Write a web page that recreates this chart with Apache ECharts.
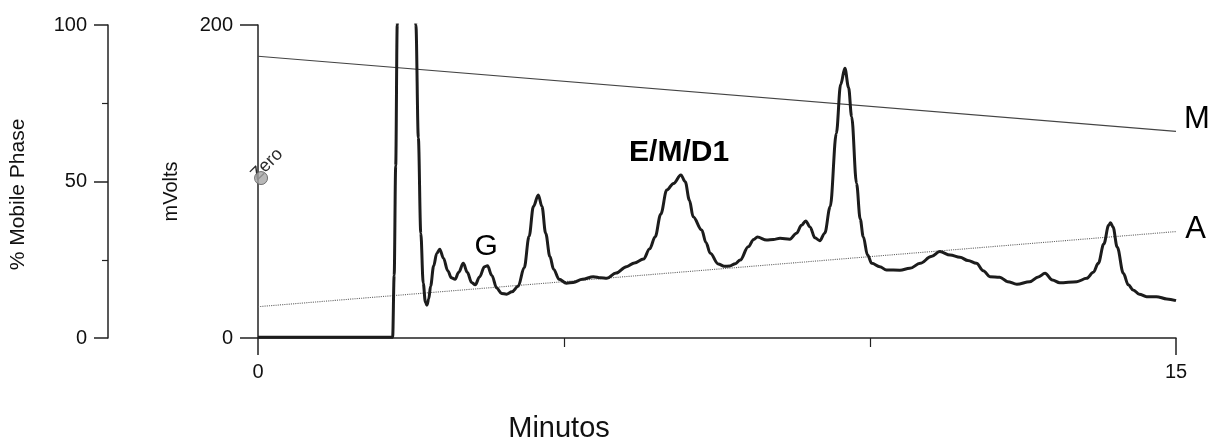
<!DOCTYPE html>
<html><head><meta charset="utf-8">
<script src="https://cdn.jsdelivr.net/npm/echarts@6/dist/echarts.min.js"></script>
<style>html,body{margin:0;padding:0;background:#fff}#c{width:1210px;height:438px}</style>
</head><body><div id="c"></div>
<script>
// Chromatogram trace (minutes, mVolts)
const times = [0, 2.2, 2.225, 2.25, 2.275, 2.30, 2.42, 2.54, 2.58, 2.62, 2.66, 2.70, 2.735, 2.76, 2.79, 2.82, 2.87, 2.92, 2.97, 3.03, 3.10, 3.16, 3.22, 3.28, 3.355, 3.42, 3.49, 3.55, 3.62, 3.70, 3.75, 3.82, 3.90, 3.98, 4.06, 4.15, 4.25, 4.35, 4.43, 4.50, 4.58, 4.64, 4.70, 4.77, 4.83, 4.92, 5.04, 5.15, 5.30, 5.48, 5.60, 5.70, 5.85, 6.02, 6.15, 6.30, 6.40, 6.49, 6.58, 6.68, 6.79, 6.91, 6.98, 7.05, 7.11, 7.25, 7.32, 7.39, 7.52, 7.62, 7.71, 7.80, 7.88, 8.01, 8.10, 8.16, 8.31, 8.42, 8.53, 8.69, 8.80, 8.88, 8.95, 9.02, 9.10, 9.18, 9.26, 9.35, 9.45, 9.52, 9.59, 9.65, 9.70, 9.78, 9.84, 9.89, 9.96, 10.03, 10.16, 10.27, 10.49, 10.65, 10.82, 11.0, 11.14, 11.31, 11.47, 11.60, 11.74, 11.85, 11.96, 12.12, 12.25, 12.40, 12.61, 12.75, 12.86, 12.98, 13.10, 13.38, 13.54, 13.65, 13.73, 13.82, 13.90, 13.93, 13.97, 14.04, 14.14, 14.22, 14.30, 14.40, 14.52, 14.68, 14.85, 15.0];
const mvolts = [0.5, 0.5, 40, 110, 200, 300, 500, 300, 200, 128, 67, 35, 23, 21, 25, 33, 46, 54, 56.7, 51, 43, 38.5, 37.5, 42, 47.7, 42, 35.5, 34, 39, 45.5, 46.2, 40, 32, 28.5, 28, 29.5, 33, 45, 65, 84, 91.4, 84, 67, 52, 44, 37.5, 35, 35.5, 37.5, 39.2, 38.5, 38.1, 41.5, 45.6, 48, 50.5, 57, 64.7, 79, 94.6, 98.8, 104.2, 99.9, 88, 77.5, 69.0, 61, 54.1, 47.3, 45.8, 46.0, 47.5, 49.8, 58.3, 63, 64.5, 62.6, 63, 63.7, 63.1, 67, 72, 74.8, 71, 64, 62.2, 67, 83.9, 130.8, 162, 172.3, 160, 141.4, 98.8, 76, 64.7, 53, 47.7, 45.5, 43.5, 43.3, 44.5, 47.7, 52, 55.2, 53, 51.6, 49.5, 47.7, 43, 39.2, 38.8, 36, 34.3, 36.0, 39, 41.3, 37, 35.3, 36.0, 38.1, 42, 47.7, 60, 72, 73.7, 71, 58, 41.3, 34, 30.7, 28, 26.4, 26.4, 25, 23.9];

// Mobile phase gradient (% of mobile phase)
const gradTimes = [0, 15];
const phaseM = [90, 66];
const phaseA = [10, 34];

// Tick labels
const xTickLabels = ['0', '15'];
const mvTickLabels = ['0', '200'];
const phaseTickLabels = ['0', '50', '100'];

// Annotations
const peakNames = ['G', 'E/M/D1'];
const peakNameTimes = [3.73, 6.88];
const peakNameMv = [58.3, 118.3];
const phaseNames = ['M', 'A'];
const phaseNameTimes = [15.34, 15.32];
const phaseNamePct = [69.8, 34.7];
const zeroText = 'Zero';
const zeroTextAnchor = [0.035, 98.5];
const zeroPoint = [0.05, 102.2];

const FONT = "'Liberation Sans', Arial, sans-serif";
const chart = echarts.init(document.getElementById('c'));
const axisCol = '#222';

const labelSeries = (name, yIdx, data, label) => ({
  name, type: 'scatter', yAxisIndex: yIdx, clip: false, silent: true,
  symbolSize: 0, itemStyle: { color: '#000', opacity: 1 }, z: 6, data,
  label: Object.assign({ show: true, formatter: p => p.name, position: 'inside', align: 'center',
    verticalAlign: 'middle', color: '#000', textBorderWidth: 0, fontFamily: FONT }, label)
});

chart.setOption({
  animation: false,
  backgroundColor: '#fff',
  textStyle: { fontFamily: FONT },
  grid: { left: 258, right: 34, top: 25, bottom: 100, containLabel: false, outerBoundsMode: 'none' },
  xAxis: {
    type: 'value', min: 0, max: 15, interval: 15,
    axisLine: { show: true, onZero: false, lineStyle: { color: axisCol, width: 1.5 } },
    axisTick: { show: true, length: 17, lineStyle: { color: axisCol, width: 1.5 } },
    minorTick: { show: true, splitNumber: 3, length: 9, lineStyle: { color: axisCol, width: 1.2 } },
    splitLine: { show: false }, minorSplitLine: { show: false },
    axisLabel: { margin: 24, fontSize: 20, color: '#111', fontFamily: FONT,
      formatter: v => xTickLabels.indexOf(String(v)) >= 0 ? String(v) : '' },
    name: 'Minutos', nameLocation: 'middle', nameGap: 76,
    nameTextStyle: { fontSize: 29, color: '#111', fontFamily: FONT, padding: [0, 316, 0, 0] }
  },
  yAxis: [
    {
      type: 'value', min: 0, max: 200, interval: 200, position: 'left',
      axisLine: { show: true, onZero: false, lineStyle: { color: axisCol, width: 1.5 } },
      axisTick: { show: true, length: 18, lineStyle: { color: axisCol, width: 1.5 } },
      splitLine: { show: false },
      axisLabel: { margin: 25, fontSize: 20, color: '#111', fontFamily: FONT,
        formatter: v => mvTickLabels.indexOf(String(v)) >= 0 ? String(v) : '' },
      name: 'mVolts', nameLocation: 'middle', nameGap: 77, nameRotate: 90,
      nameTextStyle: { fontSize: 20, color: '#111', fontFamily: FONT, padding: [0, 20, 0, 0] }
    },
    {
      type: 'value', min: 0, max: 100, interval: 50, position: 'left', offset: 150,
      axisLine: { show: true, onZero: false, lineStyle: { color: axisCol, width: 1.5 } },
      axisTick: { show: true, length: 14, lineStyle: { color: axisCol, width: 1.5 } },
      minorTick: { show: true, splitNumber: 2, length: 6, lineStyle: { color: axisCol, width: 1.2 } },
      splitLine: { show: false }, minorSplitLine: { show: false },
      axisLabel: { margin: 21, fontSize: 20, color: '#111', fontFamily: FONT,
        formatter: v => phaseTickLabels.indexOf(String(v)) >= 0 ? String(v) : '' },
      name: '% Mobile Phase', nameLocation: 'middle', nameGap: 79, nameRotate: 90,
      nameTextStyle: { fontSize: 21, color: '#111', fontFamily: FONT, padding: [0, 26, 0, 0] }
    }
  ],
  series: [
    {
      name: 'M', type: 'line', yAxisIndex: 1, showSymbol: false, silent: true,
      data: gradTimes.map((t, i) => [t, phaseM[i]]),
      lineStyle: { color: '#444', width: 1.1 }, z: 2
    },
    {
      name: 'A', type: 'line', yAxisIndex: 1, showSymbol: false, silent: true,
      data: gradTimes.map((t, i) => [t, phaseA[i]]),
      lineStyle: { color: '#666', width: 1.1, type: 'dotted' }, z: 2
    },
    {
      name: 'mVolts', type: 'line', yAxisIndex: 0, showSymbol: false, silent: true,
      smooth: 0.35, smoothMonotone: 'x', clip: true,
      data: times.map((t, i) => [t, mvolts[i]]),
      lineStyle: { color: '#1c1c1c', width: 3 }, z: 3
    },
    labelSeries('zeroText', 0, [{ value: zeroTextAnchor, name: zeroText }],
      { rotate: 45, align: 'left', verticalAlign: 'bottom', fontSize: 18, color: '#2a2a2a' }),
    {
      name: 'zeroMarker', type: 'scatter', yAxisIndex: 0, clip: false, silent: true,
      symbol: 'circle', symbolSize: 13, z: 10,
      itemStyle: { color: '#a6a6a6', borderColor: '#555', borderWidth: 1 },
      data: [zeroPoint]
    },
    labelSeries('peakNames', 0, peakNames.map((n, i) => ({ value: [peakNameTimes[i], peakNameMv[i]], name: n,
      label: { fontWeight: n === 'G' ? 'normal' : 'bold', fontSize: 30 } })), {}),
    labelSeries('phaseNames', 1, phaseNames.map((n, i) => ({ value: [phaseNameTimes[i], phaseNamePct[i]], name: n })),
      { fontSize: 31 })
  ]
});
</script></body></html>
